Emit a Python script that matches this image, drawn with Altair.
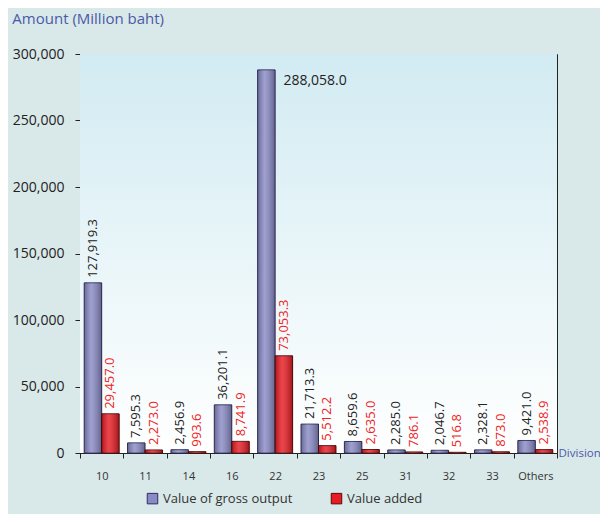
import altair as alt
import pandas as pd

divisions = ["10", "11", "14", "16", "22", "23", "25", "31", "32", "33", "Others"]
gross_output = [127919.3, 7595.3, 2456.9, 36201.1, 288058.0, 21713.3, 8659.6, 2285.0, 2046.7, 2328.1, 9421.0]
value_added = [29457.0, 2273.0, 993.6, 8741.9, 73053.3, 5512.2, 2635.0, 786.1, 516.8, 873.0, 2538.9]
series_names = ["Value of gross output", "Value added"]
y_ticks = [0, 50000, 100000, 150000, 200000, 250000, 300000]

rows = []
for d, g, v in zip(divisions, gross_output, value_added):
    rows.append({"division": d, "series": series_names[0], "amount": g})
    rows.append({"division": d, "series": series_names[1], "amount": v})
df = pd.DataFrame(rows)

FONT = "Open Sans"
W, H = 477, 399

x_enc = alt.X("division:N", sort=divisions,
              scale=alt.Scale(paddingInner=0, paddingOuter=0),
              axis=alt.Axis(title="Division", tickBand="extent", labelAngle=0,
                            labelFontSize=11, labelColor="#333333", labelPadding=12,
                            tickSize=5, tickColor="#222222", domainColor="#222222",
                            titleX=W + 1, titleY=0, titleAlign="left", titleBaseline="middle",
                            titleFontSize=11.5, titleFontWeight="normal", titleColor="#4a5aa8",
                            titleFont=FONT))
xoff = alt.XOffset("series:N", sort=series_names,
                   scale=alt.Scale(domain=series_names, paddingInner=0, paddingOuter=0.24))
y_enc = alt.Y("amount:Q",
              scale=alt.Scale(domain=[0, 300000], nice=False),
              axis=alt.Axis(title=None, values=y_ticks, format=",.0f", labelFontSize=14,
                            labelColor="#222222", tickSize=5, tickColor="#222222",
                            domainColor="#222222", labelPadding=11,
                            grid=True, gridDash=[7, 6], gridColor="#222222", gridWidth=1))

bg = alt.Chart(pd.DataFrame({"a": [0]})).mark_rect(
    fill=alt.Gradient(gradient="linear", x1=0, y1=0, x2=0, y2=1,
                      stops=[alt.GradientStop(offset=0, color="#d2ebf2"),
                             alt.GradientStop(offset=1, color="#ffffff")])
).encode(x=alt.value(0), x2=alt.value(W), y=alt.value(0), y2=alt.value(H))

bars = alt.Chart(df).mark_bar(strokeWidth=1, cornerRadius=0).encode(
    x=x_enc, xOffset=xoff, y=y_enc,
    color=alt.Color("series:N", sort=series_names,
                    scale=alt.Scale(domain=series_names, range=["#8a8ac6", "#e81c24"]),
                    legend=alt.Legend(title=None, orient="none", direction="horizontal",
                                      legendX=66, legendY=438,
                                      symbolType="square", symbolSize=110,
                                      symbolStrokeColor="#2a2a50", symbolStrokeWidth=1,
                                      labelFontSize=13, labelColor="#333333", labelFont=FONT,
                                      columnPadding=36)),
    stroke=alt.Stroke("series:N", sort=series_names,
                      scale=alt.Scale(domain=series_names, range=["#2f2f60", "#5a0a0a"]),
                      legend=None),
)

shade = alt.Chart(df).mark_bar(
    fill=alt.Gradient(gradient="linear", x1=0, y1=0, x2=1, y2=0,
                      stops=[alt.GradientStop(offset=0, color="rgba(0,0,0,0.25)"),
                             alt.GradientStop(offset=0.4, color="rgba(255,255,255,0.18)"),
                             alt.GradientStop(offset=1, color="rgba(0,0,0,0.3)")]),
    strokeWidth=0
).encode(x=x_enc, xOffset=xoff, y=y_enc)

small = df[df["amount"] < 250000]
big = df[df["amount"] >= 250000]

labels = alt.Chart(small).mark_text(angle=270, align="left", baseline="middle",
                                    dx=5, fontSize=13, font=FONT).encode(
    x=x_enc, xOffset=xoff, y=y_enc,
    text=alt.Text("amount:Q", format=",.1f"),
    color=alt.condition(alt.datum.series == series_names[0], alt.value("#222222"), alt.value("#ee2222")),
)

big_label = alt.Chart(big).mark_text(angle=0, align="left", baseline="middle",
                                     dx=17, dy=11, fontSize=14, font=FONT, color="#222222").encode(
    x=x_enc, xOffset=xoff, y=y_enc,
    text=alt.Text("amount:Q", format=",.1f"),
)

chart = alt.layer(bg, bars, shade, labels, big_label).properties(
    width=W, height=H,
    title=alt.TitleParams("Amount (Million baht)", anchor="start", dx=0, offset=20,
                          fontSize=15, fontWeight="normal", color="#4a5aa8", font=FONT),
    autosize=alt.AutoSizeParams(type="none"),
    padding={"left": 72, "top": 46, "right": 43, "bottom": 61},
).configure(
    background="#d9e8e8", font=FONT
).configure_view(
    stroke="#222222", strokeWidth=1
).configure_axis(labelFont=FONT)

chart.save("out.html", embed_options={"renderer": "svg", "actions": False})
